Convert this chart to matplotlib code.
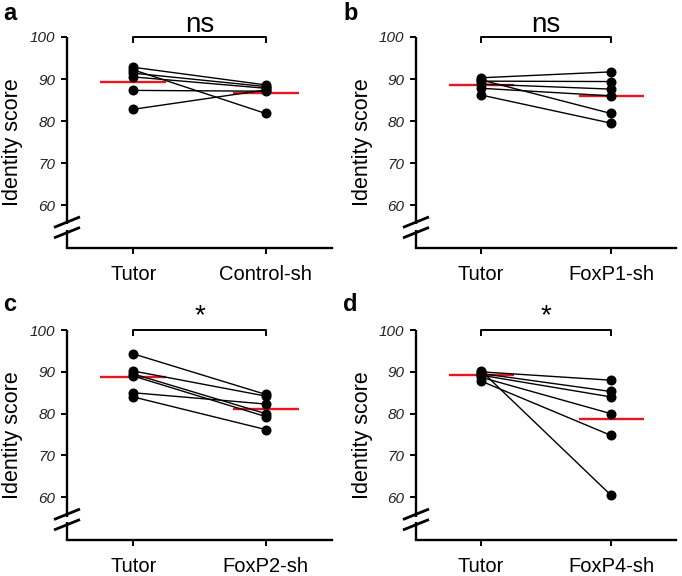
import matplotlib
matplotlib.use("Agg")
import matplotlib.pyplot as plt
import matplotlib.transforms as mtransforms

plt.rcParams['font.family'] = ['Liberation Sans', 'DejaVu Sans']

# ---- data ----
panel_letters = ['a', 'b', 'c', 'd']
group_labels = [['Tutor', 'Control-sh'], ['Tutor', 'FoxP1-sh'],
                ['Tutor', 'FoxP2-sh'], ['Tutor', 'FoxP4-sh']]
significance = ['ns', 'ns', '*', '*']

a_tutor = [92.8, 92.2, 91.4, 90.5, 87.3, 82.8]
a_ctrl = [88.6, 81.8, 88.2, 87.8, 87.1, 87.4]
a_means = [89.3, 86.6]

b_tutor = [90.3, 89.5, 88.8, 87.8, 89.8, 86.2]
b_foxp1 = [91.7, 89.4, 87.6, 86.0, 81.8, 79.5]
b_means = [88.6, 85.9]

c_tutor = [94.3, 90.2, 89.5, 89.0, 85.0, 84.0]
c_foxp2 = [84.6, 84.2, 80.0, 79.3, 82.3, 76.2]
c_means = [88.8, 81.1]

d_tutor = [90.0, 89.6, 89.2, 88.7, 87.8, 90.3]
d_foxp4 = [88.0, 85.3, 84.0, 80.0, 74.8, 60.5]
d_means = [89.3, 78.8]

y_ticks = [60, 70, 80, 90, 100]

panels = [(a_tutor, a_ctrl, a_means), (b_tutor, b_foxp1, b_means),
          (c_tutor, c_foxp2, c_means), (d_tutor, d_foxp4, d_means)]

# ---- layout ----
W, H = 682, 576
fig = plt.figure(figsize=(W / 100, H / 100), dpi=100)

rects = [(67, 37, 265, 211), (416, 37, 260, 211),
         (67, 330, 265, 210), (416, 330, 260, 210)]
letter_pos = [(3, 20), (343, 20), (3, 311), (343, 311)]

RED = '#e8161d'
YMIN, YMAX = 49.8, 100

for i, (pre, post, means) in enumerate(panels):
    x0, y0, w, h = rects[i]
    ax = fig.add_axes([x0 / W, 1 - (y0 + h) / H, w / W, h / H])
    ax.set_xlim(-0.5, 1.5)
    ax.set_ylim(YMIN, YMAX)

    # red mean bars
    for k in range(2):
        ax.plot([k - 0.25, k + 0.25], [means[k], means[k]], color=RED,
                lw=1.7, zorder=2, solid_capstyle='butt')
    # paired lines
    for p, q in zip(pre, post):
        ax.plot([0, 1], [p, q], color='black', lw=1.0, zorder=3,
                marker='o', markersize=6.2, markerfacecolor='black',
                markeredgecolor='black')

    # axes styling
    for s in ['top', 'right', 'left']:
        ax.spines[s].set_visible(False)
    ax.spines['bottom'].set_linewidth(1.7)
    ax.set_xticks([0, 1])
    ax.set_xticklabels(group_labels[i], fontsize=14.5)
    ax.tick_params(axis='x', length=4, width=1.4, pad=8)
    ax.set_yticks(y_ticks)
    ax.set_yticklabels([str(t) for t in y_ticks], fontsize=11,
                       style='italic', color='#222222')
    ax.tick_params(axis='y', length=4.5, width=1.4, pad=4)
    ax.set_ylabel('Identity score', fontsize=15.5)
    ax.yaxis.set_label_coords(-0.165, 0.5)

    # left spine with break
    tr = mtransforms.blended_transform_factory(ax.transAxes, ax.transData)
    ax.plot([0, 0], [YMAX, 55.4], color='black', lw=1.7, transform=tr,
            clip_on=False, solid_capstyle='butt')
    ax.plot([0, 0], [54.0, YMIN], color='black', lw=1.7, transform=tr,
            clip_on=False, solid_capstyle='butt')
    dx = 13 / w
    for yc in [55.95, 53.45]:
        ax.plot([-dx, dx], [yc - 1.25, yc + 1.25], color='black', lw=2.0,
                transform=tr, clip_on=False, solid_capstyle='butt')

    # significance bracket
    ax.plot([0, 0, 1, 1], [98.8, 100, 100, 98.8], color='black', lw=1.4,
            clip_on=False)
    sig = significance[i]
    if sig == 'ns':
        ax.text(0.5, 101.2, sig, ha='center', va='baseline', fontsize=20)
    else:
        ax.text(0.5, 101.6, sig, ha='center', va='baseline', fontsize=20)

    lx, ly = letter_pos[i]
    fig.text(lx / W, 1 - ly / H, panel_letters[i], fontsize=17,
             fontweight='bold', ha='left', va='baseline')

fig.savefig('out.png', dpi=100)
